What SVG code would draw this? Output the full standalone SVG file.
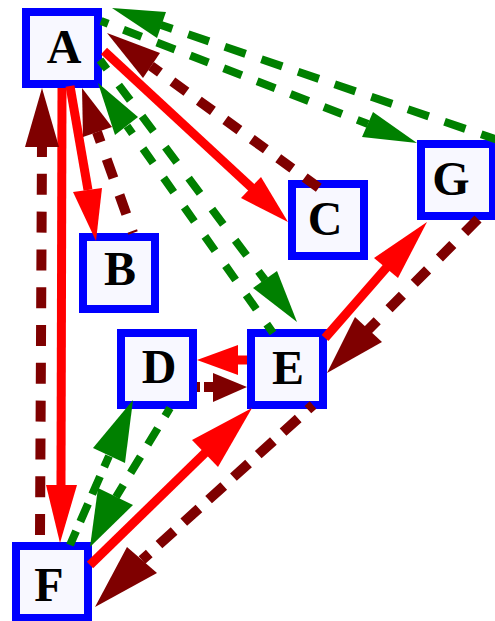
<svg xmlns="http://www.w3.org/2000/svg" width="495" height="621" viewBox="0 0 495 621">
  <style>
    .node rect { fill: #f8f8ff; stroke: #0000ff; stroke-width: 8; }
    .node text { font-family: "Liberation Serif", "Times New Roman", serif; font-weight: bold; font-size: 48px; text-anchor: middle; fill: #000000; }
    .edge line { fill: none; stroke-linecap: butt; }
    .red line { stroke: #ff0000; stroke-width: 9; }
    .red polygon { fill: #ff0000; }
    .maroon line { stroke: #7f0000; stroke-width: 10; stroke-dasharray: 21 17; }
    .maroon polygon { fill: #7f0000; }
    .green line { stroke: #008000; stroke-width: 8; stroke-dasharray: 21 17; }
    .green polygon { fill: #008000; }
  </style>

  <!-- nodes -->
  <g id="node-A" class="node"><rect x="26" y="12" width="72" height="72"/><text x="64" y="63">A</text></g>
  <g id="node-B" class="node"><rect x="83" y="237" width="72" height="72"/><text x="120" y="285">B</text></g>
  <g id="node-C" class="node"><rect x="292" y="184" width="72" height="72"/><text x="325" y="235">C</text></g>
  <g id="node-D" class="node"><rect x="121" y="333" width="72" height="72"/><text x="159" y="383">D</text></g>
  <g id="node-E" class="node"><rect x="251" y="333" width="72" height="72"/><text x="288" y="384">E</text></g>
  <g id="node-F" class="node"><rect x="16" y="546" width="72" height="72"/><text x="49" y="601">F</text></g>
  <g id="node-G" class="node"><rect x="421" y="144" width="72" height="72"/><text x="451" y="195">G</text></g>

  <!-- connectors: each edge is a shaft plus a filled triangular head -->
  <g id="edges">
    <g id="e-A-B" class="edge red"><line x1="70" y1="86" x2="88" y2="190"/><polygon points="96,241 73,192 102,188"/></g>
    <g id="e-B-A" class="edge maroon"><line x1="133" y1="233" x2="97" y2="132" style="stroke-dasharray:20.3 17.9;stroke-dashoffset:18.2"/><polygon points="82,88 83,137 112,127"/></g>
    <g id="e-A-F" class="edge red"><line x1="62" y1="88" x2="61" y2="486"/><polygon points="60,543 46,485 77,485"/></g>
    <g id="e-F-A" class="edge maroon"><line x1="40" y1="535" x2="42" y2="146" style="stroke-dasharray:21 16.8"/><polygon points="42,88 25,147 59,147"/></g>
    <g id="e-A-C" class="edge red"><line x1="104" y1="51" x2="252" y2="188"/><polygon points="288,222 241,198 261,177"/></g>
    <g id="e-C-A" class="edge maroon"><line x1="318.8" y1="187.7" x2="151" y2="66" style="stroke-dasharray:17.4 15.3"/><polygon points="107,33 160,53 143,78"/></g>
    <g id="e-A-G" class="edge green"><line x1="101" y1="21" x2="368" y2="124" style="stroke-dasharray:19.4 16.4;stroke-dashoffset:11.7"/><polygon points="417,143 362,137 373,112"/></g>
    <g id="e-G-A" class="edge green"><line x1="502" y1="141.4" x2="161" y2="25" style="stroke-dasharray:22 16.7"/><polygon points="112,8 166,12 157,38"/></g>
    <g id="e-A-E" class="edge green"><line x1="100" y1="60" x2="265" y2="280" style="stroke-dasharray:19 19.8;stroke-dashoffset:7.5"/><polygon points="297,322 253,288 277,271"/></g>
    <g id="e-E-A" class="edge green"><line x1="273" y1="333" x2="127" y2="126" style="stroke-dasharray:17.6 18.2;stroke-dashoffset:6.8"/><polygon points="98,83 115,135 138,117"/></g>
    <g id="e-E-D" class="edge red"><line x1="247" y1="360" x2="237" y2="360"/><polygon points="197,360 238,345 238,375"/></g>
    <g id="e-D-E" class="edge maroon"><line x1="197" y1="387" x2="214" y2="387" style="stroke-dasharray:3 4 30"/><polygon points="247,387 213,373 213,402"/></g>
    <g id="e-E-G" class="edge red"><line x1="325" y1="338" x2="387" y2="267"/><polygon points="427,222 374,258 398,278"/></g>
    <g id="e-G-E" class="edge maroon"><line x1="478" y1="219" x2="368" y2="330" style="stroke-dasharray:19 16.8"/><polygon points="327,373 355,317 382,342"/></g>
    <g id="e-F-D" class="edge green"><line x1="70" y1="545" x2="109" y2="456" style="stroke-dasharray:19.4 10.4;stroke-dashoffset:4.2"/><polygon points="133,400 93,448 125,463"/></g>
    <g id="e-D-F" class="edge green"><line x1="170" y1="408" x2="116" y2="497" style="stroke-dasharray:19.1 14.1;stroke-dashoffset:9.55"/><polygon points="90,547 98,488 133,505"/></g>
    <g id="e-F-E" class="edge red"><line x1="90" y1="565" x2="206" y2="452"/><polygon points="252,408 192,440 218,467"/></g>
    <g id="e-E-F" class="edge maroon"><line x1="313" y1="405" x2="142" y2="560" style="stroke-dasharray:20.4 13.1;stroke-dashoffset:13.5"/><polygon points="95,607 127,547 157,573"/></g>
  </g>
</svg>
